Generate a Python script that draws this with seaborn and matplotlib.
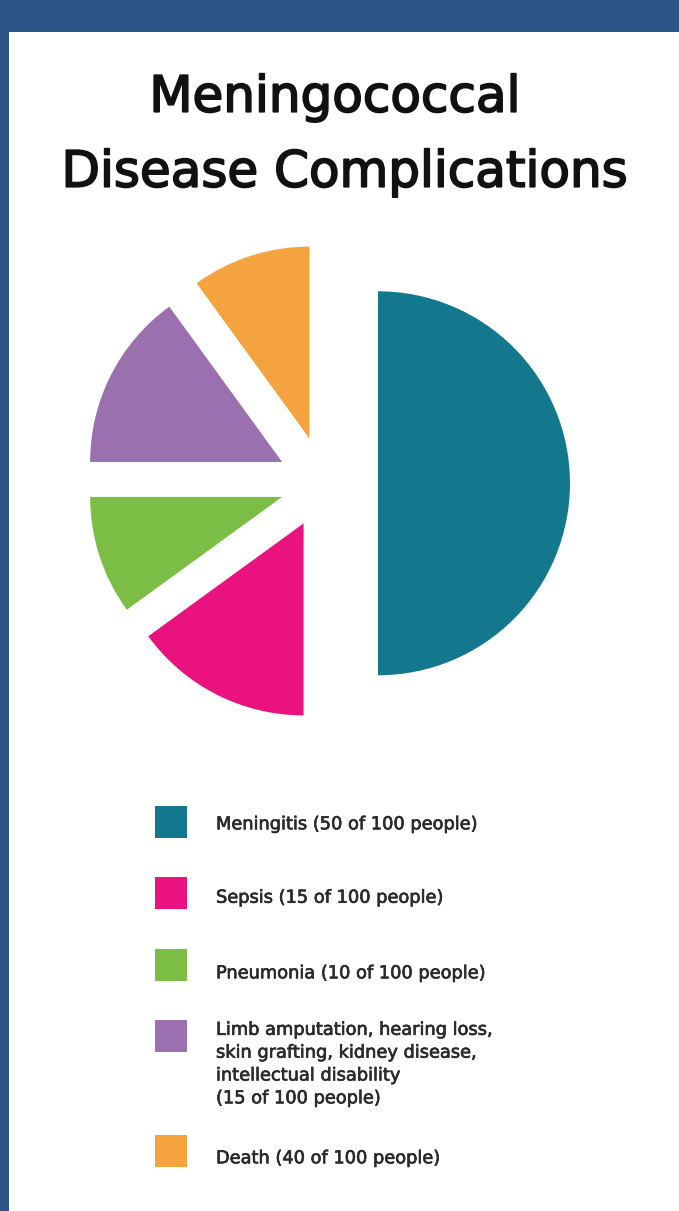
import matplotlib
matplotlib.use("Agg")
import matplotlib.pyplot as plt
import matplotlib.patheffects as pe
import seaborn as sns
from matplotlib.patches import Rectangle

# ---------------- data ----------------
categories = ["Meningitis", "Sepsis", "Pneumonia",
              "Limb amputation, hearing loss,\nskin grafting, kidney disease,\nintellectual disability",
              "Death"]
slice_values = [50, 15, 10, 15, 10]          # slice sizes as drawn
legend_counts = [50, 15, 10, 15, 40]         # counts printed in the legend
colors = ["#13788d", "#e9127f", "#7cbe45", "#9a70ae", "#f4a33e"]

# ---------------- style / layout ----------------
W, H = 679, 1211
BORDER = "#2e5587"
explode_px = [54, 45, 44, 47, 47]
pie_center = (324, H - 483.3)
pie_radius = 192
square_centers = [821.7, 893.2, 964.7, 1035.8, 1151.3]
text_baselines = [829.3, 902.7, 978.3, 1103.3, 1163.3]   # last line baseline

sns.set_theme(style="white")
plt.rcParams["font.family"] = ["DejaVu Sans"]

fig = plt.figure(figsize=(W / 100, H / 100), dpi=100)
fig.patch.set_facecolor(BORDER)
fig.add_artist(Rectangle((9 / W, 0), (W - 9) / W, (H - 32) / H,
                         transform=fig.transFigure, facecolor="white",
                         edgecolor="none", zorder=-5))

ax = fig.add_axes([0, 0, 1, 1])
ax.patch.set_visible(False)
ax.pie(slice_values, colors=colors, startangle=90, counterclock=False,
       explode=explode_px, radius=pie_radius, center=pie_center,
       wedgeprops=dict(linewidth=0, antialiased=True))
ax.set_xlim(0, W)
ax.set_ylim(0, H)
ax.set_aspect("equal")
ax.axis("off")

# title
title_fx = [pe.withStroke(linewidth=1.3, foreground="#111111")]
ax.text(335, H - 111.7, "Meningococcal", ha="center", va="baseline",
        fontsize=36, color="#111111", path_effects=title_fx)
ax.text(345, H - 186.7, "Disease Complications", ha="center", va="baseline",
        fontsize=36, color="#111111", path_effects=title_fx)

# legend
sq = 32
leg_fx = [pe.withStroke(linewidth=0.5, foreground="#2b2b2b")]
for cat, cnt, col, yc, yb in zip(categories, legend_counts, colors,
                                 square_centers, text_baselines):
    ax.add_patch(Rectangle((155, H - yc - sq / 2), sq, sq, facecolor=col,
                           edgecolor="none"))
    if "\n" in cat:
        label = f"{cat}\n({cnt} of 100 people)"
    else:
        label = f"{cat} ({cnt} of 100 people)"
    ax.text(216, H - yb, label, ha="left", va="baseline", fontsize=12.8,
            color="#2b2b2b", linespacing=1.345, path_effects=leg_fx)

fig.savefig("out.png", dpi=100, facecolor=fig.get_facecolor())
